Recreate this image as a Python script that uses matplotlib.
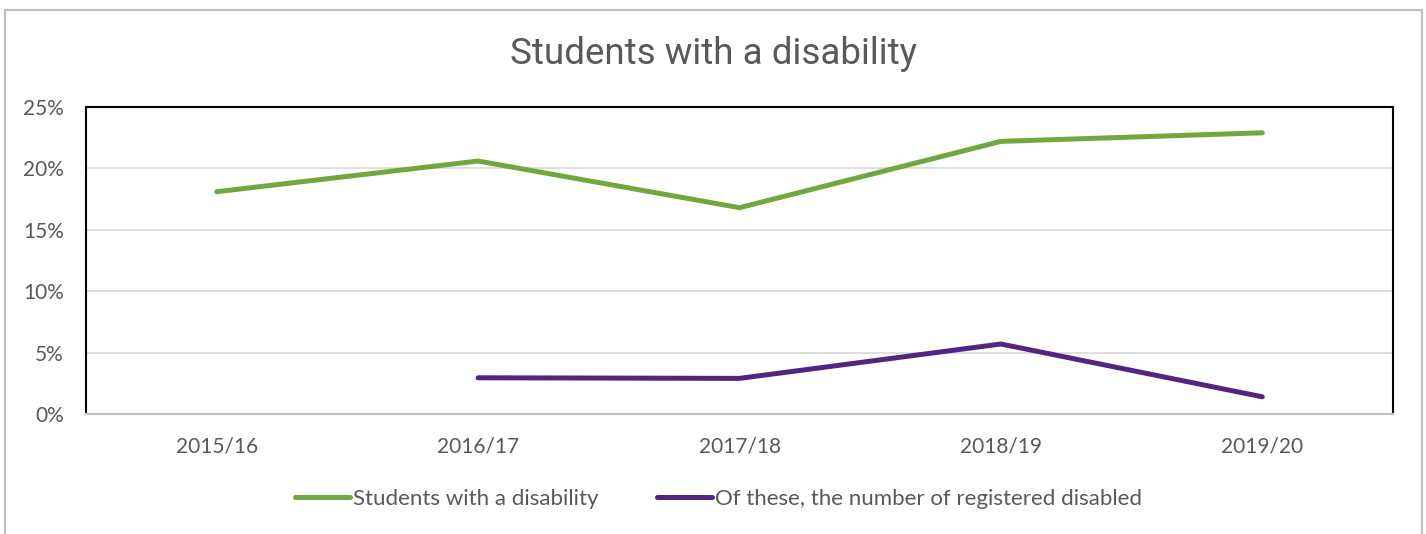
import numpy as np
import matplotlib.pyplot as plt
from matplotlib.lines import Line2D

# data
years = ['2015/16', '2016/17', '2017/18', '2018/19', '2019/20']
disability = [18.1, 20.6, 16.8, 22.2, 22.9]
registered = [np.nan, 2.95, 2.9, 5.7, 1.4]

GREEN = '#70a83f'
PURPLE = '#522680'
TXT = '#595959'
FONT = 'Lato'

fig = plt.figure(figsize=(14.26, 5.34), dpi=100)
fig.patch.set_facecolor('white')

# outer chart frame (open at bottom)
fig.add_artist(Line2D([5/1426, 5/1426, 1422/1426, 1422/1426],
                      [0, 1 - 10/534, 1 - 10/534, 0],
                      transform=fig.transFigure, color='#c0c0c0', lw=1.6))

ax = fig.add_axes([86/1426, 1 - 414/534, (1393 - 86)/1426, (414 - 107)/534])
x = np.arange(len(years))
ax.plot(x, disability, color=GREEN, lw=3.6, solid_capstyle='round', zorder=3)
ax.plot(x, registered, color=PURPLE, lw=3.6, solid_capstyle='round', zorder=3)

ax.set_xlim(-0.5, len(years) - 0.5)
ax.set_ylim(0, 25)
ax.set_yticks(range(0, 26, 5))
ax.set_yticklabels([f'{v}%' for v in range(0, 26, 5)])
ax.set_xticks(x)
ax.set_xticklabels(years)
ax.yaxis.grid(True, color='#d9d9d9', lw=1.2)
ax.set_axisbelow(True)
ax.tick_params(length=0, labelsize=15, labelcolor=TXT)
ax.tick_params(axis='y', pad=16)
ax.tick_params(axis='x', pad=16)
for lbl in ax.get_xticklabels() + ax.get_yticklabels():
    lbl.set_fontfamily(FONT)
for s in ['top', 'left', 'right']:
    ax.spines[s].set_color('black')
    ax.spines[s].set_linewidth(1.5)
ax.spines['bottom'].set_color('#bfbfbf')
ax.spines['bottom'].set_linewidth(1.5)

fig.text(0.5, 1 - 54/534, 'Students with a disability', ha='center', va='center',
         fontsize=26.5, color=TXT, family='Roboto')

handles = [Line2D([0], [0], color=GREEN, lw=3.6, solid_capstyle='round'),
           Line2D([0], [0], color=PURPLE, lw=3.6, solid_capstyle='round')]
fig.legend(handles, ['Students with a disability',
                     'Of these, the number of registered disabled'],
           loc='center', bbox_to_anchor=(0.504, 1 - 499/534), ncol=2,
           frameon=False, handlelength=2.45, handletextpad=0.15,
           columnspacing=2.65, prop={'family': FONT, 'size': 16},
           labelcolor=TXT)

fig.savefig('out.png', dpi=100, facecolor='white')
